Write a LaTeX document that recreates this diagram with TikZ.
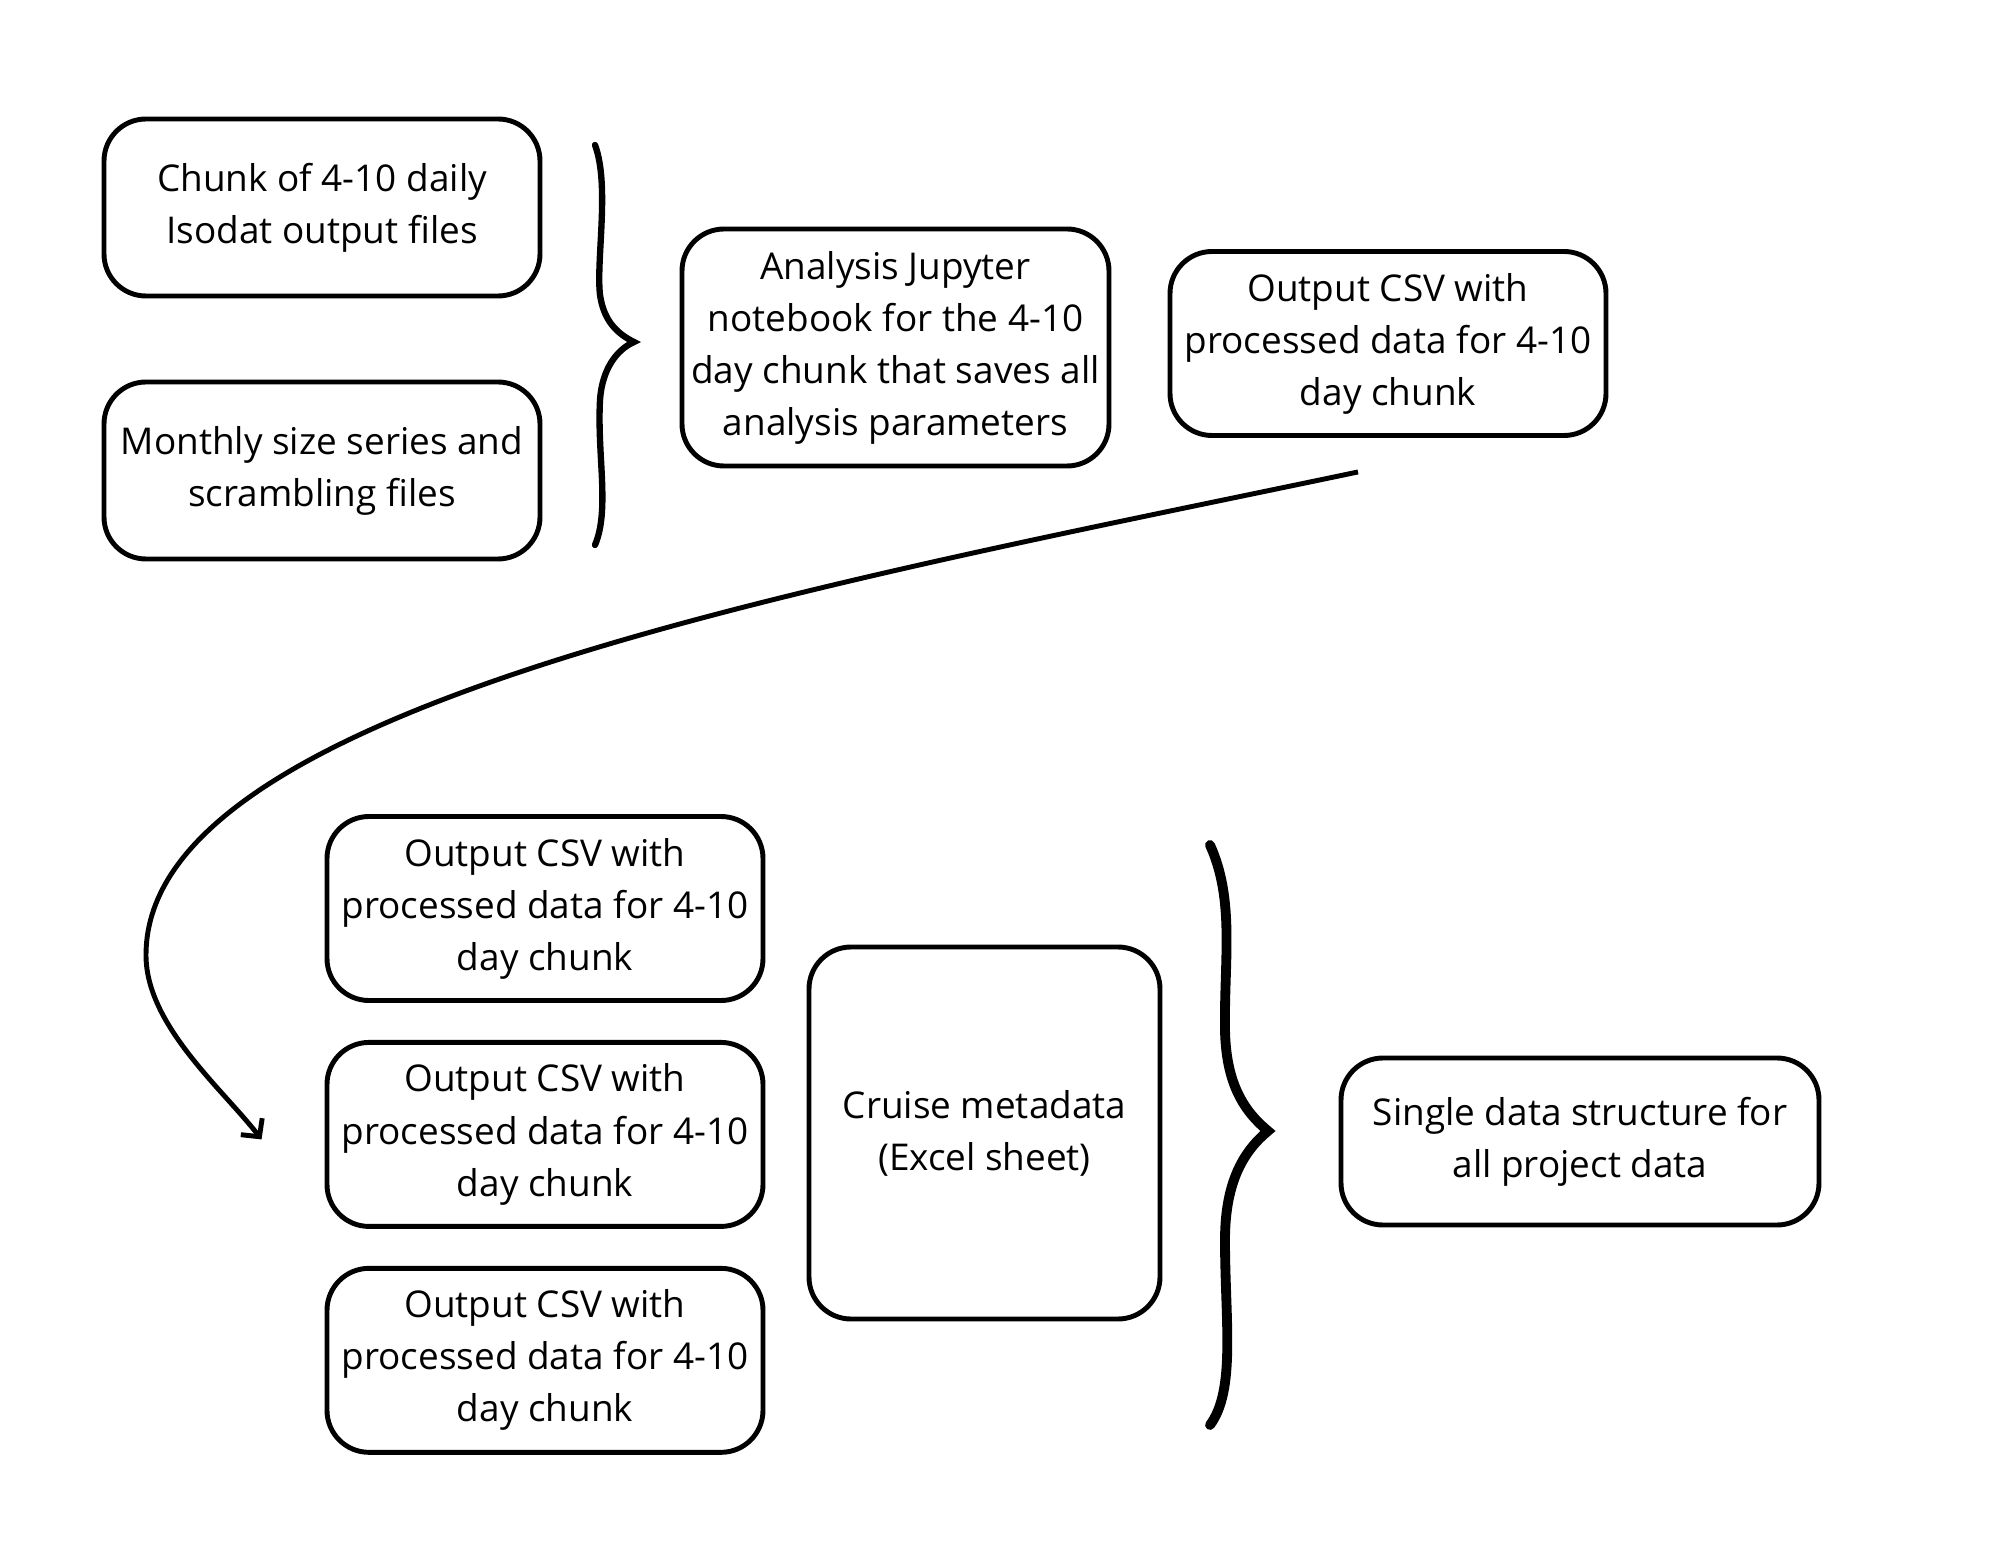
\documentclass[tikz,border=0pt]{standalone}
\usepackage{fontspec}
\setmainfont{Open Sans}
\usetikzlibrary{positioning,arrows.meta}

\begin{document}
\begin{tikzpicture}[node distance=0.37cm,
  block/.style={draw,line width=1.4pt,rounded corners=0.42cm,align=center,
    inner sep=0pt,font=\fontsize{10.5}{14.8}\selectfont},
  csvbox/.style={block,minimum width=4.36cm,minimum height=1.84cm},
  brace/.style={line width=1.8pt,line cap=round}]

  \useasboundingbox (0,0) rectangle (20,-15.45);

  % inputs
  \node[block,minimum width=4.36cm,minimum height=1.77cm] (isodat)  at (3.22,-2.075) {Chunk of 4-10 daily\\Isodat output files};
  \node[block,minimum width=4.36cm,minimum height=1.77cm] (monthly) at (3.22,-4.705) {Monthly size series and\\scrambling files};
  \node[block,minimum width=4.27cm,minimum height=2.37cm] (notebook) at (8.955,-3.475) {Analysis Jupyter\\notebook for the 4-10\\day chunk that saves all\\analysis parameters};
  \node[csvbox] (csv_top) at (13.88,-3.435) {Output CSV with\\processed data for 4-10\\day chunk};

  % chunks
  \node[csvbox] (csv_a) at (5.45,-9.085) {Output CSV with\\processed data for 4-10\\day chunk};
  \node[csvbox] (csv_b) [below=of csv_a] {Output CSV with\\processed data for 4-10\\day chunk};
  \node[csvbox] (csv_c) [below=of csv_b] {Output CSV with\\processed data for 4-10\\day chunk};
  \node[block,minimum width=3.51cm,minimum height=3.72cm] (cruise) at (9.845,-11.33) {Cruise metadata\\(Excel sheet)};
  \node[block,minimum width=4.78cm,minimum height=1.67cm] (single) at (15.8,-11.415) {Single data structure for\\all project data};

  % braces
  \draw[brace] (5.95,-1.45) .. controls (6.10,-1.85) and (5.96,-2.60) .. (6.00,-2.95)
    .. controls (6.04,-3.22) and (6.18,-3.34) .. (6.34,-3.42)
    .. controls (6.16,-3.50) and (6.02,-3.70) .. (6.00,-4.00)
    .. controls (5.97,-4.55) and (6.10,-5.10) .. (5.95,-5.45);
  \draw[brace,line width=2.8pt] (12.10,-8.45) .. controls (12.35,-9.00) and (12.24,-9.60) .. (12.25,-10.30)
    .. controls (12.26,-10.85) and (12.45,-11.12) .. (12.68,-11.31)
    .. controls (12.45,-11.50) and (12.25,-11.80) .. (12.25,-12.40)
    .. controls (12.25,-13.20) and (12.36,-13.90) .. (12.10,-14.25);

  % connector
  \coordinate (arrow_start) at ([xshift=-0.30cm,yshift=-0.34cm]csv_top.south);
  \coordinate (arrow_end)   at ([xshift=-0.63cm,yshift=-0.05cm]csv_b.west);
  \draw[line width=1.4pt,-{Straight Barb[length=0.13cm,width=0.27cm]}]
    (arrow_start) .. controls (8.20,-5.85) and (1.46,-7.05) .. (1.46,-9.55)
    .. controls (1.46,-10.25) and (2.226,-10.89) .. (arrow_end);
\end{tikzpicture}
\end{document}
